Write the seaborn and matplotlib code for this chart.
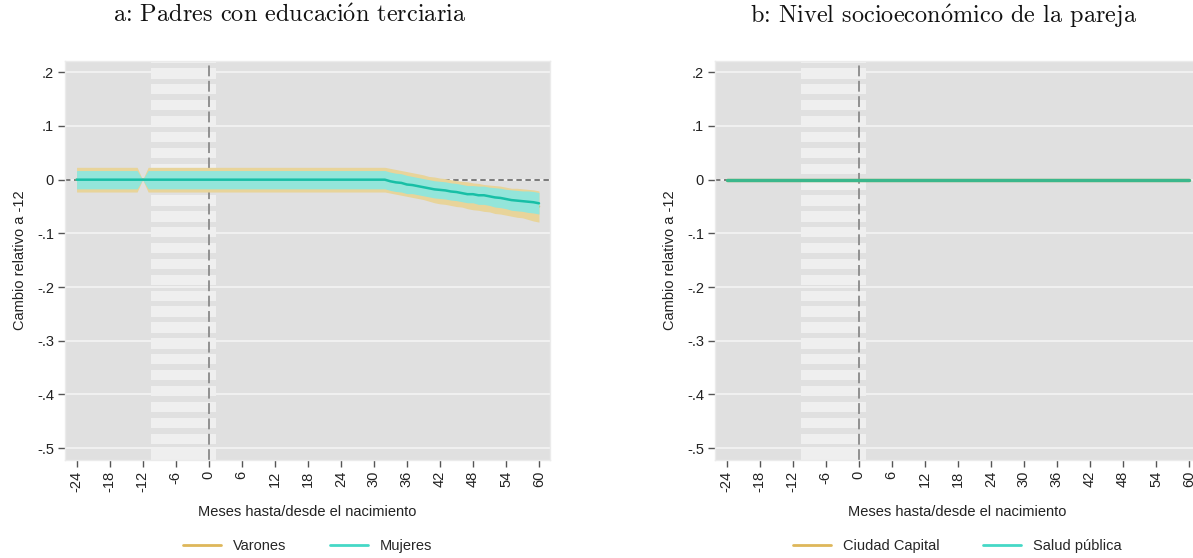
import numpy as np
import pandas as pd
import matplotlib
matplotlib.use("Agg")
import matplotlib.pyplot as plt
from matplotlib.lines import Line2D
from matplotlib.patches import Rectangle
import seaborn as sns

sns.set_theme(style="white")
plt.rcParams["font.family"] = ["Liberation Sans", "DejaVu Sans"]
plt.rcParams["mathtext.fontset"] = "cm"

# ---- data -------------------------------------------------------------
months = list(range(-24, 61))

# Panel a: tertiary-educated parents (point estimates and CI half-widths)
est_varones = [0.0] * 57 + [
    -0.002, -0.004, -0.006, -0.008, -0.010, -0.012, -0.014, -0.017,
    -0.019, -0.021, -0.022, -0.024, -0.026, -0.027, -0.029, -0.031,
    -0.032, -0.034, -0.035, -0.037, -0.038, -0.040, -0.042, -0.043,
    -0.044, -0.046, -0.048, -0.050]
hw_varones = [0.023] * 12 + [0.0] + [0.023] * 44 + (
    [0.023] * 8 + [0.024] * 6 + [0.025] * 5 + [0.026] * 4 + [0.027] * 2
    + [0.028, 0.029, 0.029])

est_mujeres = [0.0] * 57 + [
    -0.003, -0.005, -0.006, -0.009, -0.010, -0.012, -0.014, -0.016,
    -0.018, -0.019, -0.020, -0.022, -0.023, -0.025, -0.027, -0.027,
    -0.029, -0.029, -0.031, -0.033, -0.034, -0.036, -0.038, -0.039,
    -0.040, -0.041, -0.042, -0.044]
hw_mujeres = [0.017] * 12 + [0.0] + [0.017] * 44 + [
    0.017, 0.017, 0.017, 0.017, 0.016, 0.016, 0.016, 0.016, 0.016, 0.016,
    0.016, 0.016, 0.016, 0.016, 0.016, 0.016, 0.017, 0.017, 0.017, 0.018,
    0.018, 0.018, 0.019, 0.019, 0.019, 0.020, 0.020, 0.020]

# Panel b: couple's socioeconomic level
est_capital = [0.0] * 85
est_salud = [0.0] * 85

x_ticks = list(range(-24, 61, 6))
y_ticks = [0.2, 0.1, 0.0, -0.1, -0.2, -0.3, -0.4, -0.5]
y_ticklabels = [".2", ".1", "0", "-.1", "-.2", "-.3", "-.4", "-.5"]

titles = ["a: Padres con educaci$\\mathrm{\\acute{o}}$n terciaria",
          "b: Nivel socioecon$\\mathrm{\\acute{o}}$mico de la pareja"]
legend_labels = [["Varones", "Mujeres"], ["Ciudad Capital", "Salud pública"]]

# ---- styling ----------------------------------------------------------
GOLD_LINE = "#deb75a"
GOLD_FILL = "#e8d49a"
TEAL_LINE = "#45d8c6"
TEAL_DARK = "#18bfa6"
TEAL_FILL = "#93e5da"
BG = "#e0e0e0"
STRIPE = "#efefef"
FS = 10.5

W, H = 1193, 558
fig = plt.figure(figsize=(W / 100, H / 100), dpi=100)

axes_px = [(65, 61, 485, 399), (715, 61, 485, 399)]
axes = []
for (l, t, w, h) in axes_px:
    ax = fig.add_axes([l / W, 1 - (t + h) / H, w / W, h / H])
    axes.append(ax)


def style_axis(ax):
    ax.set_facecolor(BG)
    ax.set_xlim(-26.1, 62.0)
    ax.set_ylim(-0.522, 0.221)
    for s in ax.spines.values():
        s.set_color("#ebebeb")
        s.set_linewidth(1.0)
    ax.set_xticks(x_ticks)
    ax.set_xticklabels([str(v) for v in x_ticks], rotation=90, fontsize=FS,
                       color="#222222")
    ax.set_yticks(y_ticks)
    ax.set_yticklabels(y_ticklabels, fontsize=FS, color="#222222")
    ax.tick_params(axis="both", which="major", direction="out", length=5,
                   width=1.0, color="#555555", pad=3, bottom=True, left=True)
    for yv in y_ticks:
        ax.axhline(yv, color="#f4f4f4", lw=1.2, zorder=0.5)
    # striped window around birth
    period, bar_h, first_top = 15.88 / 399, 10.3 / 399, (460 - 68.3) / 399
    for k in range(-1, 26):
        top = first_top - k * period
        ax.add_patch(Rectangle((-10.4, top - bar_h), 11.7, bar_h,
                               transform=ax.get_xaxis_transform(),
                               facecolor=STRIPE, edgecolor="none", zorder=1))
    ax.axvline(0, color="#8a8a8a", lw=1.3, ls=(0, (6, 2.5)), zorder=1.5)
    ax.axhline(0, color="#707070", lw=1.3, ls=(0, (3, 2)), zorder=1.5)


for ax in axes:
    style_axis(ax)

# ---- panel a ----------------------------------------------------------
ax = axes[0]
df_a = pd.DataFrame({
    "mes": months * 2,
    "coef": est_varones + est_mujeres,
    "hw": hw_varones + hw_mujeres,
    "grupo": ["Varones"] * 85 + ["Mujeres"] * 85,
})
for grupo, fill, line, z in [("Varones", GOLD_FILL, GOLD_LINE, 2),
                             ("Mujeres", TEAL_FILL, TEAL_DARK, 3)]:
    d = df_a[df_a["grupo"] == grupo]
    ax.fill_between(d["mes"], d["coef"] - d["hw"], d["coef"] + d["hw"],
                    color=fill, lw=0, zorder=z)
    sns.lineplot(data=d, x="mes", y="coef", color=line, lw=1.8, ax=ax,
                 zorder=z + 0.5, legend=False)

# ---- panel b ----------------------------------------------------------
ax = axes[1]
df_b = pd.DataFrame({"mes": months, "capital": est_capital,
                     "salud": est_salud})
sns.lineplot(data=df_b, x="mes", y="capital", color="#d9b24f", lw=2.4,
             ax=ax, zorder=2, legend=False)
sns.lineplot(data=df_b, x="mes", y="salud", color="#1fb898", lw=2.4,
             alpha=0.85, ax=ax, zorder=3, legend=False)

for ax, title_x, title, labels in zip(axes, [290, 944], titles, legend_labels):
    ax.set_xlabel("Meses hasta/desde el nacimiento", fontsize=FS,
                  color="#222222", labelpad=9)
    ax.set_ylabel("Cambio relativo a -12", fontsize=FS, color="#222222",
                  labelpad=7)
    fig.text(title_x / W, 1 - 16 / H, title, family="cmr10", fontsize=17.5,
             ha="center", va="center", color="#111111")
    handles = [Line2D([], [], color=GOLD_LINE, lw=2),
               Line2D([], [], color=TEAL_LINE, lw=2)]
    ax.legend(handles, labels, loc="center", bbox_to_anchor=(0.5, -0.215),
              ncol=2, frameon=False, fontsize=FS, handlelength=2.6,
              columnspacing=3.0, handletextpad=0.8)

fig.savefig("out.png", dpi=100)
